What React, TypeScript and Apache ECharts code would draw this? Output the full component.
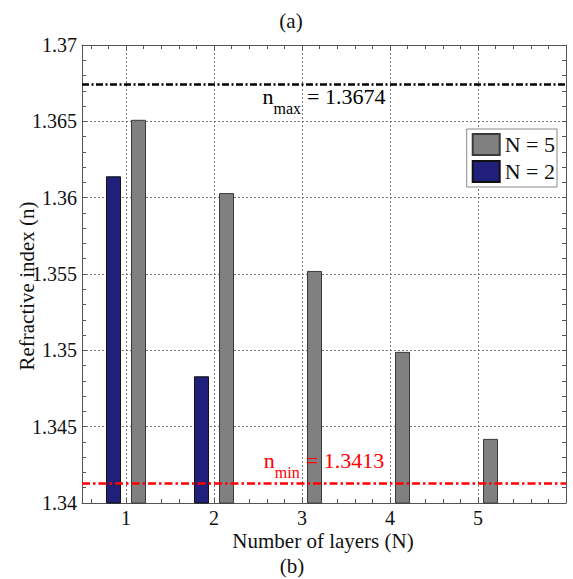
import React, { useEffect, useRef } from "react";
import * as echarts from "echarts";

// Number of layers on the horizontal axis
const layers = [1, 2, 3, 4, 5];
// Refractive index of each layer for a five-layer stack
const indexN5 = [1.3651, 1.3603, 1.3552, 1.3499, 1.3442];
// Refractive index of each layer for a two-layer stack
const indexN2 = [1.3614, 1.3483];
// Bounds of the index range
const N_MAX = 1.3674;
const N_MIN = 1.3413;
// Axis ranges
const X_RANGE = [0.5, 6];
const Y_RANGE = [1.34, 1.37];
const Y_STEP = 0.005;

const FONT = "Times New Roman, Liberation Serif, DejaVu Serif, serif";
const AXIS_COLOR = "#555";
const GRID_COLOR = "#777";
const GRID = { left: 82, right: 7, top: 45, bottom: 76 };
const W = 573;
const H = 579;

export default function App() {
  const ref = useRef<HTMLDivElement>(null);

  useEffect(() => {
    if (!ref.current) return;
    const chart = echarts.init(ref.current, null, { renderer: "svg" });

    const tickAxis = (position: "bottom" | "top", showLine: boolean) => ({
      type: "value",
      position,
      min: X_RANGE[0],
      max: X_RANGE[1],
      splitNumber: 28,
      minInterval: 0.2,
      maxInterval: 0.2,
      axisLine: { show: showLine, lineStyle: { color: AXIS_COLOR, width: 1 } },
      axisTick: { show: true, inside: true, length: 4, lineStyle: { color: AXIS_COLOR } },
      axisLabel: { show: false },
      splitLine: { show: false },
    });

    const option: any = {
      animation: false,
      backgroundColor: "#fff",
      textStyle: { fontFamily: FONT },
      grid: { ...GRID, containLabel: false },
      legend: {
        data: ["N = 5", "N = 2"],
        orient: "vertical",
        top: 129,
        right: 16,
        icon: "rect",
        itemWidth: 27,
        itemHeight: 21,
        itemGap: 4,
        padding: [4, 2, 4, 5],
        backgroundColor: "#fff",
        borderColor: "#888",
        borderWidth: 1,
        borderRadius: 0,
        textStyle: { fontFamily: FONT, fontSize: 22, color: "#111" },
      },
      xAxis: [
        {
          type: "value",
          position: "bottom",
          min: X_RANGE[0],
          max: X_RANGE[1],
          minInterval: 1,
          maxInterval: 1,
          axisLine: { show: true, lineStyle: { color: AXIS_COLOR, width: 1 } },
          axisTick: { show: false },
          axisLabel: {
            fontFamily: FONT,
            fontSize: 20,
            color: "#111",
            margin: 5,
            formatter: (v: number) => {
              const r = Math.round(v);
              return Math.abs(v - r) < 1e-6 && layers.includes(r) ? String(r) : "";
            },
          },
          splitLine: { show: true, lineStyle: { color: GRID_COLOR, type: [2, 2], width: 1 } },
        },
        tickAxis("bottom", false),
        tickAxis("top", true),
      ],
      yAxis: [
        {
          type: "value",
          position: "left",
          min: Y_RANGE[0],
          max: Y_RANGE[1],
          interval: Y_STEP,
          axisLine: { show: true, lineStyle: { color: AXIS_COLOR, width: 1 } },
          axisTick: { show: true, inside: true, length: 4, lineStyle: { color: AXIS_COLOR } },
          minorTick: { show: true, splitNumber: 5, length: 4, lineStyle: { color: AXIS_COLOR } },
          axisLabel: {
            fontFamily: FONT,
            fontSize: 20,
            color: "#111",
            margin: 5,
            formatter: (v: number) => String(parseFloat(v.toFixed(3))),
          },
          splitLine: { show: true, lineStyle: { color: GRID_COLOR, type: [2, 2], width: 1 } },
        },
        {
          type: "value",
          position: "right",
          min: Y_RANGE[0],
          max: Y_RANGE[1],
          interval: Y_STEP,
          axisLine: { show: true, lineStyle: { color: AXIS_COLOR, width: 1 } },
          axisTick: { show: true, inside: true, length: 4, lineStyle: { color: AXIS_COLOR } },
          minorTick: { show: true, splitNumber: 5, length: 4, lineStyle: { color: AXIS_COLOR } },
          axisLabel: { show: false },
          splitLine: { show: false },
        },
      ],
      series: [
        {
          name: "N = 2",
          type: "bar",
          xAxisIndex: 0,
          yAxisIndex: 0,
          barWidth: 15,
          barGap: "66.7%",
          clip: true,
          itemStyle: { color: "#20207a", borderColor: "#111", borderWidth: 1 },
          data: indexN2.map((v, i) => [layers[i], v]),
        },
        {
          name: "N = 5",
          type: "bar",
          xAxisIndex: 0,
          yAxisIndex: 0,
          barWidth: 15,
          barGap: "66.7%",
          clip: true,
          itemStyle: { color: "#808080", borderColor: "#3a3a3a", borderWidth: 1 },
          data: indexN5.map((v, i) => [layers[i], v]),
          markLine: {
            silent: true,
            precision: 4,
            symbol: ["none", "none"],
            label: { show: false },
            data: [
              { yAxis: N_MAX, lineStyle: { color: "#000", width: 2.5, type: [7, 2.5, 2, 2.5] } },
              { yAxis: N_MIN, lineStyle: { color: "#ff0000", width: 2.5, type: [8, 3, 2.5, 3] } },
            ],
          },
        },
      ],
      graphic: [
        {
          type: "text",
          x: 291,
          y: 21,
          style: { text: "(a)", fontFamily: FONT, fontSize: 21, fill: "#111", align: "center", verticalAlign: "middle" },
        },
        {
          type: "text",
          x: 292,
          y: 566,
          style: { text: "(b)", fontFamily: FONT, fontSize: 21, fill: "#111", align: "center", verticalAlign: "middle" },
        },
        {
          type: "text",
          x: 323,
          y: 541,
          style: {
            text: "Number of layers (N)",
            fontFamily: FONT,
            fontSize: 21,
            fill: "#111",
            align: "center",
            verticalAlign: "middle",
          },
        },
        {
          type: "text",
          x: 27,
          y: 286,
          rotation: Math.PI / 2,
          style: {
            text: "Refractive index (n)",
            fontFamily: FONT,
            fontSize: 21,
            fill: "#111",
            align: "center",
            verticalAlign: "middle",
          },
        },
      ],
    };

    chart.setOption(option);

    // Labels for the two bound lines, placed relative to the lines' pixel rows
    const yMaxPx = chart.convertToPixel({ yAxisIndex: 0 }, N_MAX) as number;
    const yMinPx = chart.convertToPixel({ yAxisIndex: 0 }, N_MIN) as number;
    const xMid = chart.convertToPixel({ xAxisIndex: 0 }, (X_RANGE[0] + X_RANGE[1]) / 2) as number;

    const boundLabel = (id: string, sub: string, value: number, color: string, top: number) => ({
      id,
      type: "text",
      x: xMid,
      y: top,
      z: 10,
      style: {
        text: `{n|n}{s|${sub}}{v|= ${value.toFixed(4)}}`,
        align: "center",
        verticalAlign: "top",
        fill: color,
        rich: {
          n: { fontFamily: FONT, fontSize: 22, lineHeight: 22, verticalAlign: "top", fill: color },
          s: {
            fontFamily: FONT,
            fontSize: 16,
            lineHeight: 16,
            verticalAlign: "top",
            padding: [15, 6, 0, 0],
            fill: color,
          },
          v: { fontFamily: FONT, fontSize: 22, lineHeight: 22, verticalAlign: "top", fill: color },
        },
      },
    });

    chart.setOption({
      graphic: [
        ...option.graphic,
        boundLabel("nmax", "max", N_MAX, "#000", yMaxPx + 1),
        boundLabel("nmin", "min", N_MIN, "#ff0000", yMinPx - 34),
      ],
    });

    return () => chart.dispose();
  }, []);

  return <div ref={ref} style={{ width: W, height: H, position: "absolute", left: 0, top: 0 }} />;
}
